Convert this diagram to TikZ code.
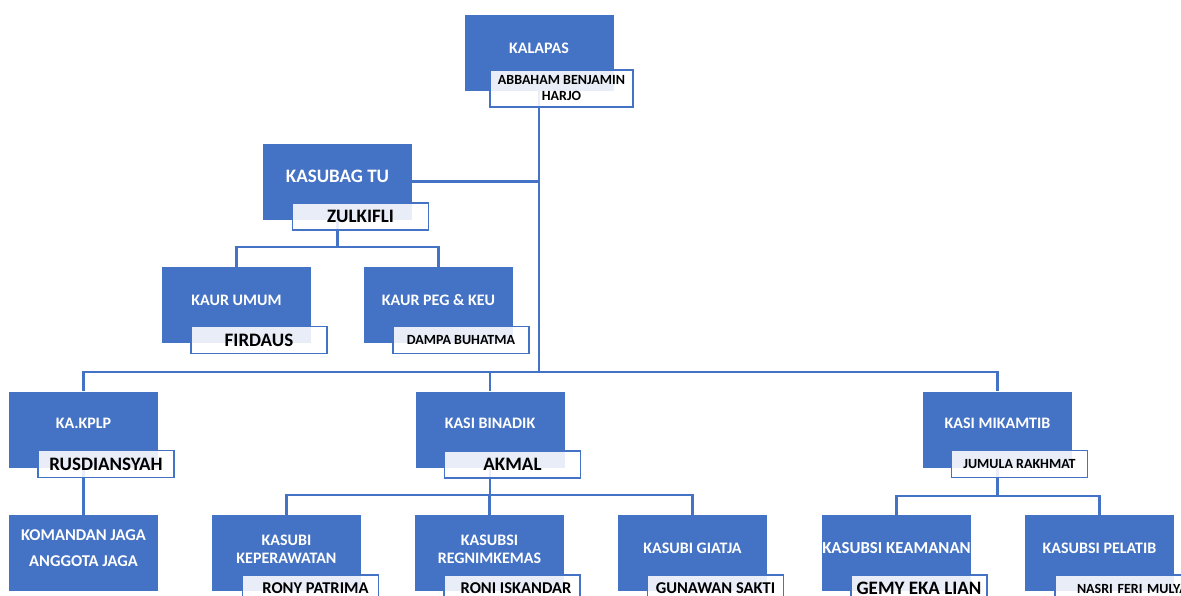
\documentclass[tikz,border=0pt]{standalone}
\usepackage{fontspec}
\setmainfont{Carlito}
\usetikzlibrary{backgrounds}
\definecolor{ublue}{HTML}{4472C4}
\begin{document}
\begin{tikzpicture}[x=1pt,y=-1pt,
  unit/.style={rectangle, fill=ublue, minimum width=149pt, minimum height=76pt, inner sep=0pt},
  utext/.style={text=white, font=\bfseries\fontsize{16}{18}\selectfont, align=center, inner sep=0pt},
  namebox/.style={rectangle, draw=ublue, line width=1.8pt, fill=white, fill opacity=0.88, text opacity=1,
    minimum width=136pt, minimum height=27pt, inner sep=0pt, align=center, text=black},
  big/.style={font=\bfseries\fontsize{19}{21}\selectfont},
  mid/.style={font=\bfseries\fontsize{16.5}{18}\selectfont},
  small/.style={font=\bfseries\fontsize{14}{16}\selectfont},
  link/.style={draw=ublue, line width=2.3pt}]
\begin{scope}[on background layer]
  \fill[white] (0,0) rectangle (1181,595);
\end{scope}
\useasboundingbox (0,0) rectangle (1181,595);
\clip (0,0) rectangle (1181,595);

% level 1
\node[unit] (kal) at (539,53) {};
\node[utext] (kalT) at ([yshift=5pt]kal.center) {KALAPAS};
\node[namebox, minimum width=143pt, minimum height=37pt, font=\bfseries\fontsize{14}{16}\selectfont] (kalN) at (561.5,88.5) {ABBAHAM BENJAMIN\\HARJO};

% kasubag
\node[unit] (kas) at (337.5,181.5) {};
\node[utext, font=\bfseries\fontsize{19}{21}\selectfont] (kasT) at ([yshift=5.5pt]kas.center) {KASUBAG TU};
\node[namebox, big] (kasN) at (360.5,216.5) {ZULKIFLI};

\node[unit] (umum) at (236.5,305) {};
\node[utext] (umumT) at ([yshift=5pt]umum.center) {KAUR UMUM};
\node[namebox, big] (umumN) at (259,340) {FIRDAUS};

\node[unit] (peg) at (438.5,305) {};
\node[utext] (pegT) at ([yshift=5pt]peg.center) {KAUR PEG \& KEU};
\node[namebox, small] (pegN) at (461,340) {DAMPA BUHATMA};

% level 3
\node[unit] (kplp) at (83.5,429.5) {};
\node[utext] (kplpT) at ([yshift=6pt]kplp.center) {KA.KPLP};
\node[namebox, big] (kplpN) at (106,464) {RUSDIANSYAH};

\node[unit] (bin) at (490,429.5) {};
\node[utext] (binT) at ([yshift=6pt]bin.center) {KASI BINADIK};
\node[namebox, big] (binN) at (512.5,464.5) {AKMAL};

\node[unit] (mik) at (997.5,429.5) {};
\node[utext] (mikT) at ([yshift=6pt]mik.center) {KASI MIKAMTIB};
\node[namebox, small] (mikN) at (1019.5,464) {JUMULA RAKHMAT};

% level 4
\node[unit] (jaga) at (83.5,553) {};
\node[utext, font=\bfseries\fontsize{16.5}{26}\selectfont] (jagaT) at ([yshift=5pt]jaga.center) {KOMANDAN JAGA\\ANGGOTA JAGA};

\node[unit] (kep) at (286.5,553) {};
\node[utext] (kepT) at ([yshift=4pt]kep.center) {KASUBI\\KEPERAWATAN};
\node[namebox, mid] (kepN) at (310.5,588.5) {\hspace*{10pt}RONY PATRIMA};

\node[unit] (reg) at (489.5,553) {};
\node[utext] (regT) at ([yshift=4pt]reg.center) {KASUBSI\\REGNIMKEMAS};
\node[namebox, mid] (regN) at (512,588.5) {\hspace*{8pt}RONI ISKANDAR};

\node[unit] (gia) at (692.5,553) {};
\node[utext] (giaT) at ([yshift=5pt]gia.center) {KASUBI GIATJA};
\node[namebox, mid] (giaN) at (715.5,588.5) {GUNAWAN SAKTI};

\node[unit] (kea) at (896.5,553) {};
\node[utext, font=\bfseries\fontsize{16.8}{18}\selectfont] (keaT) at ([yshift=5pt]kea.center) {KASUBSI KEAMANAN};
\node[namebox, big] (keaN) at (919,588.5) {GEMY EKA LIAN};

\node[unit] (pel) at (1099.5,553) {};
\node[utext] (pelT) at ([yshift=5pt]pel.center) {KASUBSI PELATIB};
\node[namebox, small, text width=130pt, align=left] (pelN) at (1123,588.5) {\hspace*{19pt}NASRI FERI MULYA};

% connectors
\coordinate (bus) at (539,372);
\coordinate (kasbus) at (337.5,247);
\coordinate (binbus) at (490,495);
\coordinate (mikbus) at (997.5,496);
\begin{scope}[on background layer]
  \draw[link] (kal.south) -- (bus);
  \draw[link] (kas.east) -- (kas.east -| kal.south);
  \draw[link] (kplp.north) -- (kplp.north |- bus) -- (mik.north |- bus) -- (mik.north);
  \draw[link] (bin.north) -- (bin.north |- bus);
  \draw[link] (kas.south) -- (kasbus);
  \draw[link] (umum.north) -- (umum.north |- kasbus) -- (peg.north |- kasbus) -- (peg.north);
  \draw[link] (kplp.south) -- (jaga.north);
  \draw[link] (bin.south) -- (binbus);
  \draw[link] (kep.north) -- (kep.north |- binbus) -- (gia.north |- binbus) -- (gia.north);
  \draw[link] (reg.north) -- (reg.north |- binbus);
  \draw[link] (mik.south) -- (mikbus);
  \draw[link] (kea.north) -- (kea.north |- mikbus) -- (pel.north |- mikbus) -- (pel.north);
\end{scope}
\end{tikzpicture}
\end{document}
